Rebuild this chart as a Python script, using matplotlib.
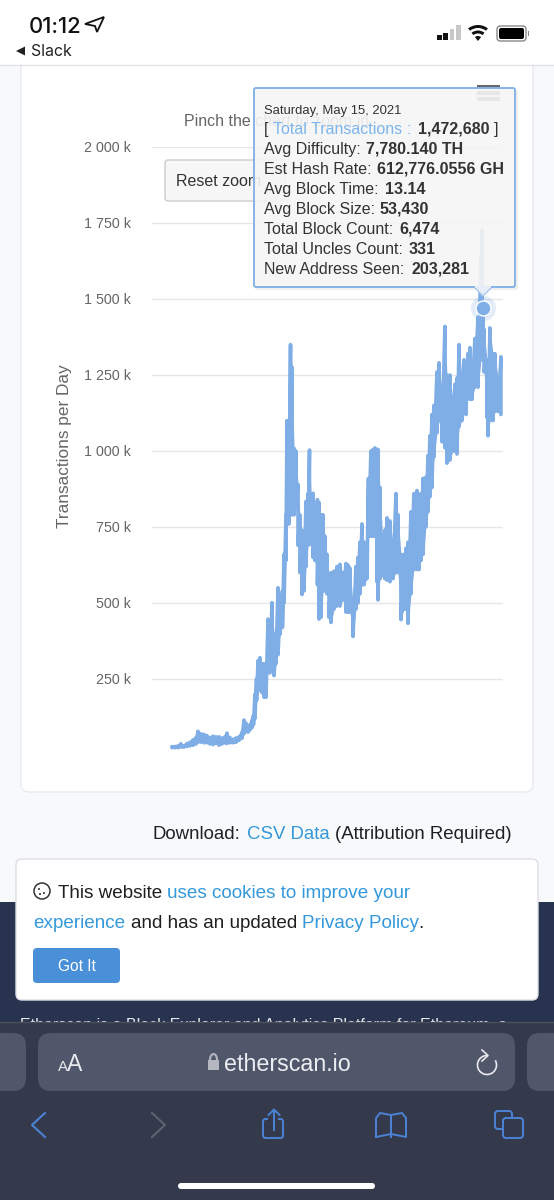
import matplotlib
matplotlib.use("Agg")
import matplotlib.pyplot as plt
from matplotlib.patches import FancyBboxPatch, Rectangle, Polygon, Circle, Arc, Wedge

plt.rcParams['font.family'] = ['Liberation Sans', 'DejaVu Sans']

# ---- data: for each time bucket (days since launch), the high and the low of the daily values ----
days = [0,20,41,61,82,102,122,143,163,177,197,218,238,258,279,299,320,340,360,374,394,415,435,456,476,490,503,517,530,544,
        554,564,575,585,598,612,626,639,653,666,680,694,707,721,734,751,762,775,782,796,806,816,830,843,857,870,884,898,911,925,
        935,945,959,972,989,1000,1013,1027,1040,1054,1068,1081,1102,1122,1142,1163,1183,1197,1210,1231,1251,1265,1278,1292,1306,1326,1336,1353,1367,1380,
        1394,1401,1414,1434,1448,1462,1482,1503,1523,1537,1557,1578,1591,1605,1625,1645,1666,1680,1693,1707,1727,1741,1754,1768,1781,1802,1816,1836,1856,1870,
        1890,1910,1924,1938,1952,1972,1986,1999,2013,2026,2040,2060,2081,2101,2108,2115,2122,2142,2149,2162,2183,2196,2217,2237]
high_k = [28,28,30,37,30,38,42,50,58,78,70,68,64,58,62,60,60,56,60,72,58,52,56,60,75,115,105,95,100,115,
          130,200,250,310,320,300,300,300,447,430,501,400,360,550,480,539,660,790,1100,1100,1350,1276,1009,1000,890,790,740,700,834,860,
          1003,860,861,760,840,830,790,790,720,660,590,600,605,620,627,600,630,625,615,500,620,650,700,760,700,700,910,1000,1005,1010,
          1005,1005,880,700,740,780,770,700,860,790,660,660,680,700,800,860,870,820,860,910,914,985,1050,1120,1150,1260,1290,1200,1410,1250,
          1250,1170,1220,1240,1350,1240,1300,1270,1320,1340,1290,1370,1440,1640,1727,1472,1400,1300,1300,1405,1320,1320,1240,1310]
low_k = [24,24,24,26,26,28,30,32,36,42,42,40,40,36,34,38,32,36,40,38,40,40,42,48,55,70,78,75,82,90,
         100,120,180,210,220,205,190,190,280,270,300,261,300,330,397,420,500,640,760,760,900,790,790,819,690,600,528,540,620,692,
         692,700,650,640,560,447,453,540,540,530,453,436,480,490,490,510,470,470,470,390,480,500,530,560,560,580,720,720,720,720,
         570,510,580,590,580,575,570,580,600,600,445,480,480,433,530,610,610,610,640,660,750,800,850,880,980,1060,1100,1030,1010,960,
         970,1000,1000,990,1080,1100,1130,1120,1200,1170,1170,1210,1210,1300,1350,1300,1260,1110,1050,1100,1100,1130,1130,1120]
peak_day = 2115
peak_k = 1472
y_ticks = [250,500,750,1000,1250,1500,1750,2000]
y_labels = ['250 k','500 k','750 k','1 000 k','1 250 k','1 500 k','1 750 k','2 000 k']
tip_date = 'Saturday, May 15, 2021'
tip_rows = [('Avg Difficulty:','7,780.140 TH',366),('Est Hash Rate:','612,776.0556 GH',377),
            ('Avg Block Time:','13.14',385),('Avg Block Size:','53,430',380),
            ('Total Block Count:','6,474',399),('Total Uncles Count:','331',409),
            ('New Address Seen:','203,281',411)]

W,H = 554,1200
fig = plt.figure(figsize=(W/100,H/100),dpi=100,facecolor='white')
def px(s): return s*0.72

def overlay(z):
    a = fig.add_axes([0,0,1,1],zorder=z)
    a.set_xlim(0,W); a.set_ylim(H,0); a.axis('off'); a.patch.set_alpha(0)
    return a
ui = overlay(0)
top = overlay(3)

def rbox(a,x0,y0,x1,y1,r,fc,ec='none',lw=0,z=1):
    p = FancyBboxPatch((x0+r,y0+r),x1-x0-2*r,y1-y0-2*r,boxstyle=f'round,pad={r},rounding_size={r}',fc=fc,ec=ec,lw=lw,zorder=z)
    a.add_patch(p); return p

# page background
ui.add_patch(Rectangle((0,65),W,840,fc='#f8f9fa',ec='none',zorder=0))
rbox(ui,21,50,533,792,8,'white','#e7eaf0',1,z=1)
ui.add_patch(Rectangle((0,0),W,64,fc='white',ec='none',zorder=1.5))
ui.plot([0,W],[64.5,64.5],color='#e2e3e5',lw=1,zorder=1.6)

# status bar
ui.text(29,33,'01:12',fontsize=px(22),family=['Inter','DejaVu Sans'],weight='medium',va='baseline',color='#111',zorder=2)
ui.add_patch(Polygon([[85,24],[104,17],[97,32],[95,26]],closed=True,fc='none',ec='#111',lw=1.3,zorder=2))
ui.add_patch(Polygon([[16,51],[25,46.5],[25,55.5]],closed=True,fc='#222',ec='none',zorder=2))
ui.text(31,56,'Slack',fontsize=px(15.8),va='baseline',color='#222',family=['Inter','DejaVu Sans'],zorder=2)
for x,h,c in [(437,5,'#111'),(443,7,'#111'),(449.5,11,'#c8c8c8'),(456,15,'#c8c8c8')]:
    ui.add_patch(Rectangle((x,40-h),4.5,h,fc=c,ec='none',zorder=2))
for r,w in [(16,3),(10.5,3),(5,5)]:
    ui.add_patch(Wedge((478,41),r,232,308,width=w,fc='#111',ec='none',zorder=2))
rbox(ui,497,26,526,41,3.5,'white','#888',1,z=2)
rbox(ui,499,28,524,39,2,'#000',z=2.1)
ui.add_patch(Rectangle((527.5,31),1.5,5,fc='#888',ec='none',zorder=2))

# chart UI behind the plot
ui.text(184,126,'Pinch the chart to zoom in.',fontsize=px(16),color='#666666',va='baseline',zorder=2)
rbox(ui,165,160,285,201,3,'#f7f7f7','#cccccc',1,z=2)
ui.text(176,186,'Reset zoom',fontsize=px(16),color='#333333',va='baseline',zorder=3)
ui.add_patch(Rectangle((477,85),23,4,fc='#666666',ec='none',zorder=2))
for y in (91,97):
    ui.add_patch(Rectangle((477,y),23,3.5,fc='#666666',ec='none',zorder=2))

# chart
ax = fig.add_axes([152/W,1-755/H,351/W,608/H],zorder=1)
ax.patch.set_alpha(0)
ax.set_xlim(-136,2251); ax.set_ylim(0,2000)
for s in ax.spines.values(): s.set_visible(False)
ax.set_xticks([])
ax.set_yticks(y_ticks); ax.set_yticklabels(y_labels,fontsize=px(14.2),color='#666666')
ax.tick_params(axis='y',length=0,pad=15)
ax.grid(axis='y',color='#e6e6e6',lw=1)
ax.set_axisbelow(True)
ax.set_ylabel('Transactions per Day',fontsize=px(17.2),color='#666666')
ax.yaxis.set_label_coords((72-152)/351,0.508)
line_x, line_y = [], []
for d,hi,lo in zip(days,high_k,low_k):
    line_x += [d,d]
    line_y += [hi,lo]
line_color = '#7fade6'
ax.fill_between(days,low_k,high_k,color=line_color,lw=0,zorder=2.9)
ax.plot(line_x,line_y,color=line_color,lw=2.6,solid_joinstyle='round',solid_capstyle='round',zorder=3)
ax.scatter([peak_day],[peak_k],s=324,color=line_color,alpha=0.22,lw=0,zorder=4,clip_on=False)
ax.scatter([peak_day],[peak_k],s=115,color=line_color,edgecolor='white',lw=1,zorder=5,clip_on=False)

# tooltip
tip_fc = (0.97,0.97,0.97,0.9)
rbox(top,255,90,518,290,2,(0,0,0,0.06),z=0.5)
top.add_patch(Polygon([[474,287],[483,296],[492,287]],closed=True,fc=(0.9,0.93,0.97,1),ec='#a9c8ec',lw=1,zorder=1))
rbox(top,254,88,515,287,2,tip_fc,'#86b3e6',1.4,z=2)
top.plot([476,490],[287,287],color=(0.9,0.93,0.97,1),lw=1.5,zorder=3)
def tip(x,y,s,size=16,weight='normal',color='#333333'):
    top.text(x,y+5,s,fontsize=px(size),weight=weight,color=color,va='baseline',zorder=4)
tip(264,109,tip_date,size=13)
tip(264,129,'[')
tip(273,129,'Total Transactions',color='#7cb5ec')
tip(407,129,':',color='#7cb5ec')
tip(418,129,'1,472,680',weight='bold')
tip(494,129,']')
for i,(lab,val,xv) in enumerate(tip_rows):
    y = 149+20*i
    tip(264,y,lab)
    tip(xv,y,val,weight='bold')

# download line
blue = '#3498db'
ui.text(153,839,'Download:',fontsize=px(18.7),color='#1e2022',va='baseline',zorder=2)
ui.text(247,839,'CSV Data',fontsize=px(18.7),color=blue,va='baseline',zorder=2)
ui.text(335,839,'(Attribution Required)',fontsize=px(18.7),color='#1e2022',va='baseline',zorder=2)

# footer + cookie
ui.add_patch(Rectangle((0,902),W,125,fc='#27334f',ec='none',zorder=1))
ui.text(20,1030,'Etherscan is a Block Explorer and Analytics Platform for Ethereum, a',fontsize=px(16),color='#e6e8ee',va='baseline',zorder=1.2)
rbox(ui,16,859,538,1000,6,'white','#dcdfe6',1,z=2)
ui.add_patch(Circle((42,891),8,fc='white',ec='#333',lw=1.1,zorder=3))
for dx,dy in [(-3,-2),(2,2),(-2,3)]:
    ui.add_patch(Circle((42+dx,891+dy),1,fc='#333',ec='none',zorder=3))
fs = px(18.9)
for x,y,s,c in [(58,898,'This website','#1e2022'),(167,898,'uses cookies to improve your',blue),
                (33,928,'experience',blue),(131,928,'and has an updated','#1e2022'),
                (302,928,'Privacy Policy',blue),(418.5,928,'.','#1e2022')]:
    ui.text(x,y,s,fontsize=fs,color=c,va='baseline',zorder=3)
rbox(ui,33,948,120,983,4,'#4a90d9',z=3)
ui.text(76.5,971,'Got It',fontsize=px(15.5),color='white',ha='center',va='baseline',zorder=4)

# safari bar
ui.add_patch(Rectangle((0,1022),W,178,fc='#343a4b',ec='none',zorder=5))
ui.plot([0,W],[1022,1022],color='#4a4f5e',lw=1,zorder=5.1)
rbox(ui,38,1033,515,1091,13,'#51576a',z=6)
rbox(ui,-20,1033,26,1091,13,'#51576a',z=6)
rbox(ui,527,1033,574,1091,13,'#51576a',z=6)
ui.text(58,1071,'A',fontsize=px(15),color='#e8e9ee',va='baseline',zorder=7)
ui.text(67,1071,'A',fontsize=px(23),color='#e8e9ee',va='baseline',zorder=7)
ui.add_patch(Rectangle((208,1060),11,10,fc='#b4b6c0',ec='none',zorder=7))
ui.add_patch(Arc((213.5,1060),7,12,theta1=180,theta2=360,ec='#b4b6c0',lw=1.5,zorder=7))
ui.text(224,1071,'etherscan.io',fontsize=px(23.2),color='#eceef2',va='baseline',zorder=7)
ui.add_patch(Arc((487,1065),19,19,theta1=-30,theta2=270,ec='#e8e9ee',lw=1.2,zorder=7))
ui.plot([482,488,482],[1050,1055.5,1061],color='#e8e9ee',lw=1.2,zorder=7)
ic = '#4b82d6'
ui.plot([45,32,45],[1113,1125,1137.0],color=ic,lw=1.5,zorder=7)
ui.plot([152,165,152],[1113,1125,1137.0],color='#5d6270',lw=1.5,zorder=7)
ui.add_patch(FancyBboxPatch((263,1119),20,19,boxstyle='round,pad=0,rounding_size=2.5',fc='none',ec=ic,lw=1.4,zorder=7))
ui.add_patch(Rectangle((268,1115),10,8,fc='#343a4b',ec='none',zorder=7.1))
ui.plot([274,274],[1130,1110],color=ic,lw=1.4,zorder=7.2)
ui.plot([268.5,274,279.5],[1115,1109.5,1115],color=ic,lw=1.4,zorder=7.2)
ui.plot([376,376,380,391,391,391,402,406,406,391,376],[1137,1118,1113,1115,1137,1115,1113,1118,1137,1134,1137],color=ic,lw=1.4,zorder=7)
ui.add_patch(FancyBboxPatch((495,1111),17,18,boxstyle='round,pad=0,rounding_size=3',fc='#343a4b',ec=ic,lw=1.4,zorder=7))
ui.add_patch(FancyBboxPatch((503,1118),20,20,boxstyle='round,pad=0,rounding_size=3',fc='#343a4b',ec=ic,lw=1.4,zorder=7.1))
rbox(ui,178,1183,375,1189,3,'white',z=7)

fig.savefig('out.png',dpi=100,facecolor='white')
